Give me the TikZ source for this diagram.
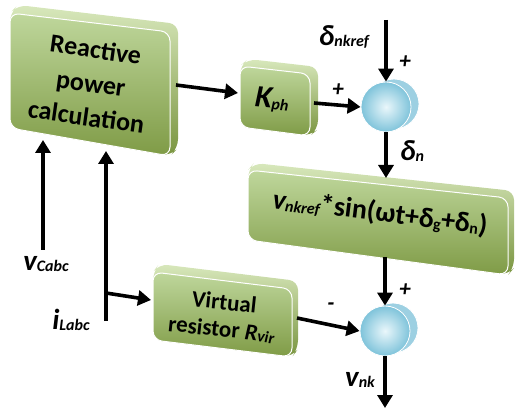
\documentclass[tikz,border=0pt]{standalone}
\usepackage{fontspec}
\setmainfont{Carlito}
\usetikzlibrary{arrows.meta,calc}

\definecolor{slabtop}{HTML}{BFD79C}
\definecolor{slabbot}{HTML}{7F9B46}
\definecolor{rimtop}{HTML}{D8E8BC}
\definecolor{rimbot}{HTML}{7A9540}
\definecolor{diskin}{HTML}{EAF7FB}
\definecolor{diskout}{HTML}{7EC3DA}
\definecolor{diskback}{HTML}{9DD0E2}

\tikzset{
  flow/.style={line width=3.6pt, -{Triangle[length=13pt,width=15pt]}},
  slabside/.style={top color=rimtop, bottom color=rimbot, rounded corners=9pt},
  slabface/.style={top color=slabtop, bottom color=slabbot, draw=white, line width=1pt, rounded corners=9pt},
  boxtext/.style={font=\bfseries\fontsize{26}{34}\selectfont, align=center, text=black, inner sep=0pt},
  sig/.style={font=\bfseries\itshape\fontsize{29}{29}\selectfont, inner sep=0pt},
  signmark/.style={font=\bfseries\itshape\fontsize{23}{23}\selectfont, inner sep=0pt},
  sumdisk/.style={circle, minimum size=50pt, inner sep=0pt, inner color=diskin, outer color=diskout, draw=white, line width=0.8pt},
  sumback/.style={circle, minimum size=50pt, inner sep=0pt, fill=diskback, draw=white, line width=0.8pt},
}

% small index text, set a little below the baseline
\newcommand\lo[1]{\raisebox{-1.5pt}{\fontsize{16}{16}\selectfont #1}}

% extruded slab: front quad TL, TR, BR, BL and the depth offset
\newcommand\slab[5]{%
  \shade[slabside] #1 -- ($#1+#5$) -- ($#2+#5$) -- ($#3+#5$) -- #3 -- #4 -- cycle;
  \shadedraw[slabface] #1 -- #2 -- #3 -- #4 -- cycle;
}

\begin{document}
\begin{tikzpicture}[x=1pt, y=-1pt]
  \useasboundingbox (0,0) rectangle (516,411);

  % blocks
  \slab{(10,13)}{(170,32)}{(170,156)}{(10,128)}{(8,-8)}
  \slab{(240,66)}{(310,74)}{(310,136)}{(240,127)}{(8,-7)}
  \slab{(248,170)}{(508,198)}{(508,275)}{(248,240)}{(6,-7)}
  \slab{(153,272)}{(292,289)}{(292,357)}{(153,340)}{(6,-8)}

  \node[boxtext, rotate=-8] (rpc) at (91,83) {Reactive\\power\\calculation};
  \node[boxtext, font=\bfseries\itshape\fontsize{31}{31}\selectfont, rotate=-5] (kph) at (272,100) {K\lo{ph}};
  \node[boxtext, font=\bfseries\fontsize{28}{28}\selectfont, rotate=-7] (sine) at (380,213)
    {\textit{v\lo{nkref}}*sin(ωt+δ\lo{g}+δ\lo{n})};
  \node[boxtext, font=\bfseries\fontsize{23}{27}\selectfont, rotate=-6] (vres) at (223,316)
    {Virtual\\resistor \textit{R\lo{vir}}};

  % summing junctions
  \node[sumback] at (394,104) {};
  \node[sumdisk] (sum1) at (386,107) {};
  \node[sumback] at (393,328) {};
  \node[sumdisk] (sum2) at (385,331) {};

  % signal labels
  \node[sig] (dref) at (344,37) {δ\lo{nkref}};
  \node[sig] (dn) at (412,151) {δ\lo{n}};
  \node[sig] (vcabc) at (46,264) {v\lo{Cabc}};
  \node[sig] (ilabc) at (71,320) {i\lo{Labc}};
  \node[sig] (vnk) at (360,380) {v\lo{nk}};

  \node[signmark] (p1) at (405,62) {+};
  \node[signmark] (p2) at (338,90) {+};
  \node[signmark] (p3) at (405,290) {+};
  \node[signmark] (m1) at (331,307) {-};

  % connector end points on block edges
  \coordinate (rpc-e) at (176,85);
  \coordinate (kph-w) at (238,93);
  \coordinate (kph-e) at (314,103);
  \coordinate (sine-n) at (386,178);
  \coordinate (sine-s) at (385,257);
  \coordinate (vres-w) at (151,300);
  \coordinate (vres-e) at (297,318);
  \coordinate (rpc-s1) at (43,140);
  \coordinate (rpc-s2) at (106,151);
  \coordinate (vc-top) at (43,250);
  \coordinate (il-end) at (106,321);
  \coordinate (il-tap) at (106,293);
  \coordinate (dref-in) at (386,20);
  \coordinate (vnk-out) at (385,408);

  % connectors
  \draw[flow] (rpc-e) -- (kph-w);
  \draw[flow] (kph-e) -- (sum1.west);
  \draw[flow] (dref-in) -- (sum1.north);
  \draw[flow] (sum1.south) -- (sine-n);
  \draw[flow] (sine-s) -- (sum2.north);
  \draw[flow] (vres-e) -- (sum2.west);
  \draw[flow] (sum2.south) -- (vnk-out);
  \draw[flow] (vc-top) -- (rpc-s1);
  \draw[flow] (il-end) -- (rpc-s2);
  \draw[flow] (il-tap) -- (vres-w);
\end{tikzpicture}
\end{document}
